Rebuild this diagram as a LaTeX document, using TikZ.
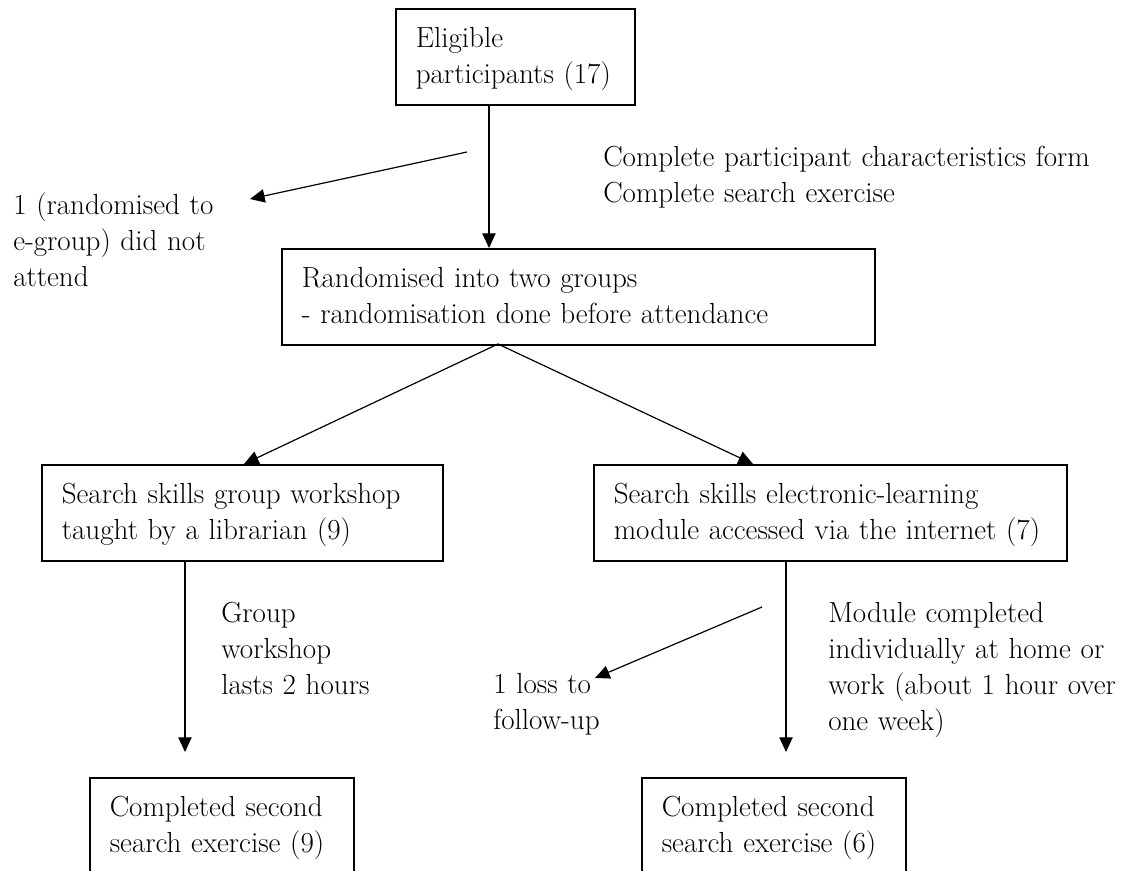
\documentclass[tikz,border=0pt]{standalone}
\usepackage{fontspec}
\usetikzlibrary{arrows.meta}
\begin{document}
\begin{tikzpicture}[x=0.75pt,y=-0.75pt,
  font=\fontsize{21.8}{27}\selectfont,
  boxnode/.style={draw,line width=1.2pt,anchor=north west,inner xsep=15pt,inner ysep=0pt,
    align=left,text height=29.25pt},
  freetext/.style={anchor=base west,inner sep=0pt,align=left,text width=400pt},
  arr/.style={line width=0.9pt,-{Triangle[length=11pt,width=10pt]}}]
\useasboundingbox (0,0) rectangle (1122,871);
% boxes
\node[boxnode,text width=239*0.75pt-30pt,text depth=96*0.75pt-29.25pt] (b1) at (395,8)
  {\mbox{Eligible}\\\mbox{participants (17)}};
\node[boxnode,text width=593*0.75pt-30pt,text depth=96*0.75pt-29.25pt] (b2) at (281,248)
  {\mbox{Randomised into two groups}\\\mbox{- randomisation done before attendance}};
\node[boxnode,text width=401*0.75pt-30pt,text depth=96*0.75pt-29.25pt] (b3) at (41,464)
  {\mbox{Search skills group workshop}\\\mbox{taught by a librarian (9)}};
\node[boxnode,text width=473*0.75pt-30pt,text depth=96*0.75pt-29.25pt] (b4) at (593,464)
  {\mbox{Search skills electronic-learning}\\\mbox{module accessed via the internet (7)}};
\node[boxnode,text width=264*0.75pt-30pt,text depth=100*0.75pt-29.25pt] (b5) at (89,777)
  {\mbox{Completed second}\\\mbox{search exercise (9)}};
\node[boxnode,text width=264*0.75pt-30pt,text depth=100*0.75pt-29.25pt] (b6) at (641,777)
  {\mbox{Completed second}\\\mbox{search exercise (6)}};
% free texts
\node[freetext] (tnot) at (13,214) {1 (randomised to\\e-group) did not\\attend};
\node[freetext] (tchar) at (603,166) {Complete participant characteristics form\\Complete search exercise};
\node[freetext] (tgrp) at (221,622) {Group\\workshop\\lasts 2 hours};
\node[freetext] (tloss) at (493,693) {1 loss to\\follow-up};
\node[freetext] (tmod) at (828,622) {Module completed\\individually at home or\\work (about 1 hour over\\one week)};
% helper coordinates
\coordinate (x1) at (489,0);
\coordinate (d1s) at (467,152);
\coordinate (d1e) at (250,199);
\coordinate (split) at (498,344);
\coordinate (t3) at (244,464);
\coordinate (t4) at (753,464);
\coordinate (xl) at (185,0);
\coordinate (xr) at (786,0);
\coordinate (endl) at (185,752);
\coordinate (endr) at (786,752);
\coordinate (d2s) at (762,607);
\coordinate (d2e) at (595,678);
% connectors
\draw[arr] (x1 |- b1.south) -- (x1 |- b2.north);
\draw[arr] (d1s) -- (d1e);
\draw[arr] (split) -- (t3);
\draw[arr] (split) -- (t4);
\draw[arr] (xl |- b3.south) -- (endl);
\draw[arr] (xr |- b4.south) -- (endr);
\draw[arr] (d2s) -- (d2e);
\end{tikzpicture}
\end{document}
